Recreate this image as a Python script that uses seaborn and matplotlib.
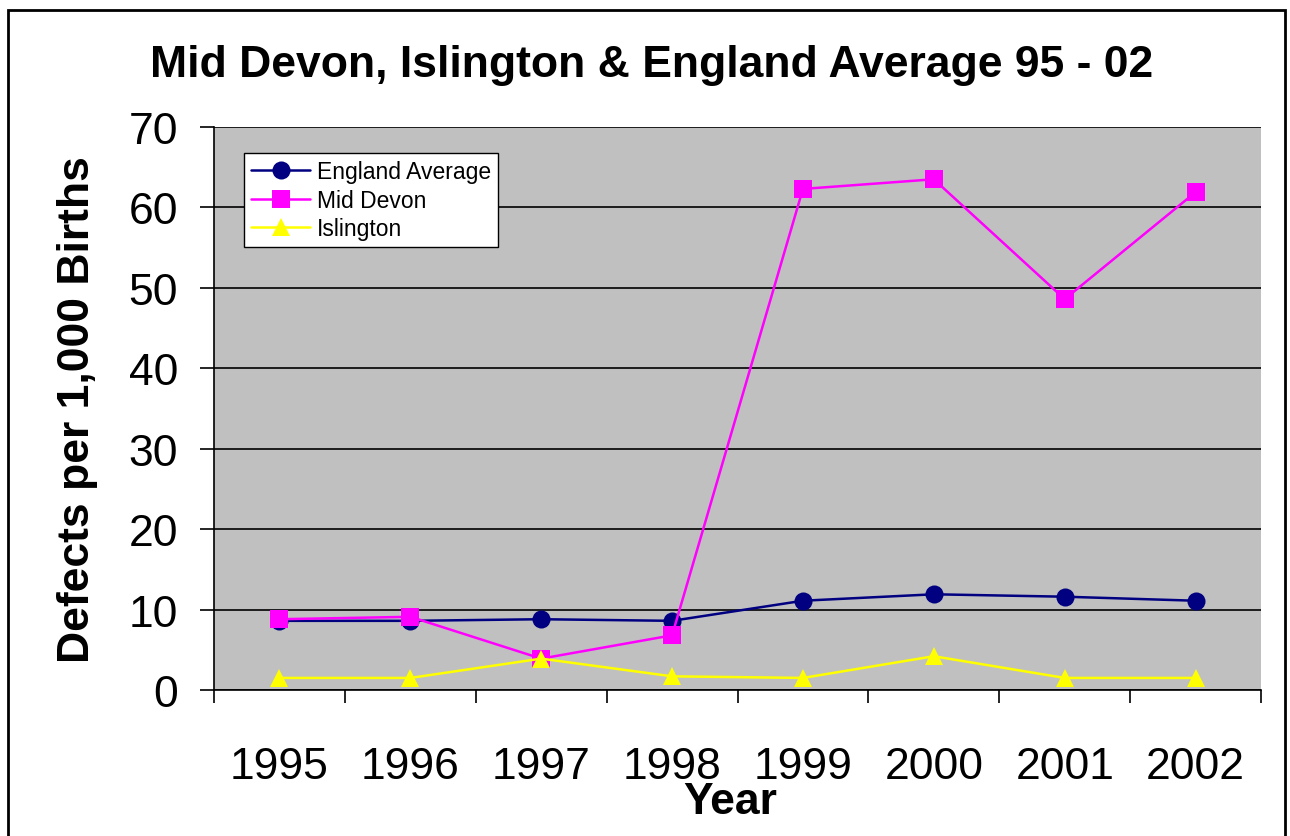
import numpy as np
import pandas as pd
import matplotlib
matplotlib.use("Agg")
import matplotlib.pyplot as plt
import seaborn as sns
from matplotlib.patches import Rectangle

# Data
years = ["1995", "1996", "1997", "1998", "1999", "2000", "2001", "2002"]
england_avg = [8.6, 8.6, 8.8, 8.6, 11.1, 11.9, 11.6, 11.1]
mid_devon = [8.8, 9.1, 3.9, 6.8, 62.3, 63.5, 48.6, 61.9]
islington = [1.5, 1.5, 3.9, 1.7, 1.5, 4.2, 1.5, 1.5]

series_names = ["England Average", "Mid Devon", "Islington"]
colors = {"England Average": "#000080", "Mid Devon": "#FF00FF", "Islington": "#FFFF00"}
markers = {"England Average": "o", "Mid Devon": "s", "Islington": "^"}

df = pd.DataFrame({
    "Year": years * 3,
    "Value": england_avg + mid_devon + islington,
    "Series": [s for s in series_names for _ in years],
})

sns.set_theme(style="white")
plt.rcParams["font.family"] = ["Liberation Sans", "DejaVu Sans"]
plt.rcParams.update({"text.color": "black", "axes.labelcolor": "black",
                     "xtick.color": "black", "ytick.color": "black"})

fig = plt.figure(figsize=(12.9, 8.37), dpi=100)
ax = fig.add_axes([214 / 1290, 1 - 691 / 837, (1261 - 214) / 1290, (691 - 128) / 837])
ax.set_facecolor("#C0C0C0")

sns.lineplot(data=df, x="Year", y="Value", hue="Series", style="Series",
             palette=colors, markers=markers, dashes=False, markersize=13,
             markeredgewidth=0, linewidth=1.8, sort=False, ax=ax)

# Axes styling
ax.set_ylim(0, 70)
ax.set_xlim(-0.5, len(years) - 0.5)
ax.set_yticks(np.arange(0, 71, 10))
ax.yaxis.grid(True, color="black", linewidth=1.2)
ax.xaxis.grid(False)
ax.set_axisbelow(True)
for side in ["top", "right"]:
    ax.spines[side].set_visible(False)
for side in ["left", "bottom"]:
    ax.spines[side].set_color("black")
    ax.spines[side].set_linewidth(1.2)

ax.set_xticks(range(len(years)))
ax.set_xticklabels(years)
ax.set_xticks(np.arange(-0.5, len(years)), minor=True)
ax.tick_params(axis="x", which="major", length=0, pad=40, labelsize=32, labelcolor="black")
ax.tick_params(axis="x", which="minor", length=9, width=1.2, color="black", direction="out", bottom=True)
ax.tick_params(axis="y", length=10, width=1.2, color="black", direction="out", left=True, pad=16,
               labelsize=32, labelcolor="black")

ax.set_xlabel("")
ax.set_ylabel("")
fig.text(730 / 1290, 1 - 803 / 837, "Year", fontsize=32, fontweight="bold", ha="center", va="center")
fig.text(78 / 1290, 1 - 410 / 837, "Defects per 1,000 Births", fontsize=32, fontweight="bold",
         ha="center", va="center", rotation=90)
fig.text(652 / 1290, 1 - 65 / 837, "Mid Devon, Islington & England Average 95 - 02",
         fontsize=32, fontweight="bold", ha="center", va="center")

leg = ax.legend(loc="upper left", bbox_to_anchor=(30 / 1047, 1 - 26 / 563), fontsize=16.5,
                frameon=True, fancybox=False, borderpad=0.3, labelspacing=0.25,
                handlelength=2.6, handletextpad=0.3, borderaxespad=0)
leg.get_frame().set_edgecolor("black")
leg.get_frame().set_facecolor("white")
leg.get_frame().set_linewidth(1.0)
leg.get_frame().set_alpha(1)

# Outer chart border
fig.patches.append(Rectangle((8 / 1290, -0.01), (1285 - 8) / 1290, 1 - 11 / 837 + 0.01,
                             transform=fig.transFigure, fill=False, edgecolor="black", linewidth=2))

fig.savefig("out.png", dpi=100, facecolor="white")
